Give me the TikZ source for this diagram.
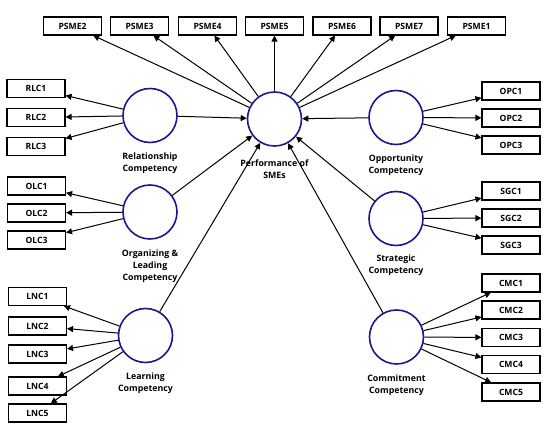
\documentclass[tikz,border=0pt]{standalone}
\usepackage{fontspec}
\setmainfont{Open Sans}
\usetikzlibrary{arrows.meta}
\definecolor{navyc}{RGB}{25,25,140}
\begin{document}
\begin{tikzpicture}[x=1pt,y=-1pt,
 ind/.style={draw=black, line width=1.1pt, minimum width=58pt, minimum height=18pt, inner sep=0pt, font=\fontsize{8.6}{9}\selectfont\bfseries},
 lat/.style={circle, draw=navyc, line width=1.6pt, minimum size=54pt, inner sep=0pt},
 lab/.style={align=center, font=\fontsize{8.8}{12.2}\selectfont\bfseries},
 arr/.style={-{Triangle[length=6pt,width=6pt]}, line width=1pt}]
\useasboundingbox (0,0) rectangle (550,430);
% latent variables
\node[lat] (rel) at (150,115.5) {};
\node[lat] (perf) at (274.5,119) {};
\node[lat] (opp) at (396,117.5) {};
\node[lat] (org) at (150,212) {};
\node[lat] (lrn) at (145.5,335.5) {};
\node[lat] (str) at (396,218.5) {};
\node[lat] (com) at (396.5,337) {};
% labels
\node[lab] (lrel) at (150,163) {Relationship\\Competency};
\node[lab] (lperf) at (274.5,169) {Performance of\\SMEs};
\node[lab] (lopp) at (396,165.5) {Opportunity\\Competency};
\node[lab] (lorg) at (150,266) {Organizing \&\\Leading\\Competency};
\node[lab] (llrn) at (145.5,383.5) {Learning\\Competency};
\node[lab] (lstr) at (396,265.5) {Strategic\\Competency};
\node[lab] (lcom) at (396.5,385) {Commitment\\Competency};
% PSME
\node[ind] (p2) at (72.5,26) {PSME2};
\node[ind] (p3) at (139.5,26) {PSME3};
\node[ind] (p4) at (207.5,26) {PSME4};
\node[ind] (p5) at (274.5,26) {PSME5};
\node[ind] (p6) at (342,26) {PSME6};
\node[ind] (p7) at (409,26) {PSME7};
\node[ind] (p1) at (476.5,26) {PSME1};
% RLC
\node[ind] (r1) at (36,88.5) {RLC1};
\node[ind] (r2) at (36,117.5) {RLC2};
\node[ind] (r3) at (36,146.5) {RLC3};
% OLC
\node[ind] (o1) at (36.5,186) {OLC1};
\node[ind] (o2) at (36.5,213) {OLC2};
\node[ind] (o3) at (36.5,240) {OLC3};
% LNC
\node[ind] (l1) at (37.5,296.5) {LNC1};
\node[ind] (l2) at (37.5,326) {LNC2};
\node[ind] (l3) at (37.5,354) {LNC3};
\node[ind] (l4) at (37.5,386) {LNC4};
\node[ind] (l5) at (37.5,413) {LNC5};
% OPC
\node[ind] (op1) at (511,91) {OPC1};
\node[ind] (op2) at (511,118) {OPC2};
\node[ind] (op3) at (511,145) {OPC3};
% SGC
\node[ind] (s1) at (511,191) {SGC1};
\node[ind] (s2) at (511,218) {SGC2};
\node[ind] (s3) at (511,245) {SGC3};
% CMC
\node[ind] (c1) at (511,283) {CMC1};
\node[ind] (c2) at (511,310) {CMC2};
\node[ind] (c3) at (511,337.5) {CMC3};
\node[ind] (c4) at (511,364.5) {CMC4};
\node[ind] (c5) at (511,392) {CMC5};
% indicator arrows
\foreach \t in {p1,p2,p3,p4,p5,p6,p7} \draw[arr] (perf) -- (\t);
\foreach \t in {r1,r2,r3} \draw[arr] (rel) -- (\t);
\foreach \t in {o1,o2,o3} \draw[arr] (org) -- (\t);
\foreach \t in {l1,l2,l3,l4,l5} \draw[arr] (lrn) -- (\t);
\foreach \t in {op1,op2,op3} \draw[arr] (opp) -- (\t);
\foreach \t in {s1,s2,s3} \draw[arr] (str) -- (\t);
\foreach \t in {c1,c2,c3,c4,c5} \draw[arr] (com) -- (\t);
% structural arrows
\foreach \s in {rel,opp,org,lrn,str,com} \draw[arr] (\s) -- (perf);
\end{tikzpicture}
\end{document}
